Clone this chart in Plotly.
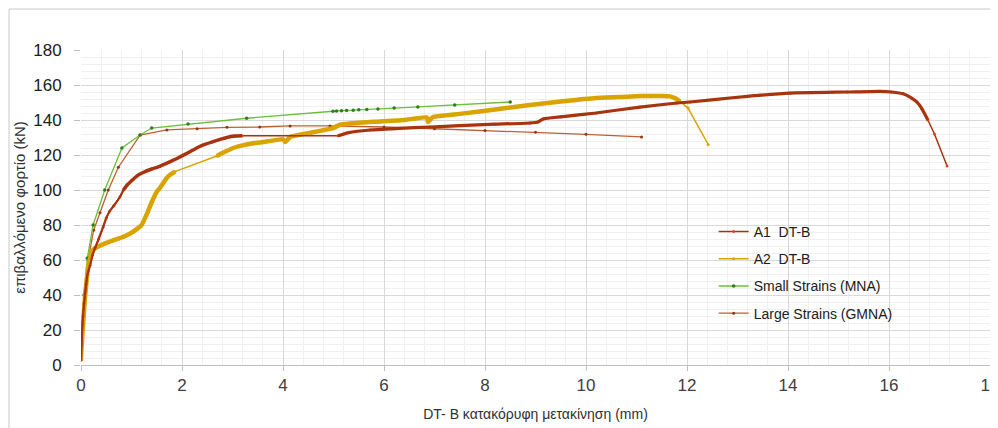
import plotly.graph_objects as go

# ---------------- data ----------------
a1_x = [0, 0.01, 0.02, 0.04, 0.06, 0.08, 0.1, 0.13, 0.18, 0.23, 0.28, 0.35, 0.44, 0.5, 0.57, 0.65,
        0.77, 0.84, 0.92, 1.03, 1.13, 1.23, 1.4, 1.56, 1.75, 1.9, 2.1, 2.36, 2.6, 2.89, 3.05, 3.19,
        5.09, 5.3, 5.72, 6.3, 6.91, 7.5, 8.2, 8.89, 9.05, 9.15, 9.5, 10.2, 11.07, 11.8, 12.06, 13.0,
        14.04, 15.17, 15.82, 16.05, 16.28, 16.45, 16.55, 16.65, 16.77, 16.9, 17.15]
a1_y = [3, 12, 20, 28, 35, 41, 46, 52, 57, 63, 67, 72, 79, 84, 88, 91,
        96, 100, 103, 106, 108.5, 110, 112, 113.5, 116, 118, 121, 125, 127.5, 130, 130.8, 131,
        131, 132.8, 134.3, 135.2, 136, 136.8, 137.6, 138.3, 138.9, 140.6, 141.8, 144, 147.4, 149.7, 150.3, 153,
        155.4, 156, 156.4, 156, 155, 152.5, 150.3, 146.5, 140, 132, 113.7]

a2_x = [0, 0.01, 0.04, 0.08, 0.1, 0.14, 0.18, 0.21, 0.28, 0.4, 0.57, 0.75, 0.9, 1.05, 1.2, 1.3,
        1.4, 1.5, 1.56, 1.63, 1.7, 1.78, 1.86, 2.69, 2.85, 3.01, 3.2, 3.41, 3.7, 4.0, 4.03, 4.05,
        4.14, 4.5, 4.99, 5.13, 5.33, 5.8, 6.4, 6.85, 6.87, 6.97, 7.5, 8.2, 8.89, 9.5, 10.2, 10.8,
        11.07, 11.5, 11.66, 11.76, 11.86, 12.02, 12.42]
a2_y = [3, 10, 22, 39, 45, 56, 61, 64.8, 66.8, 68.5, 70.5, 72.3, 74, 76.5, 80, 86,
        93, 99, 101, 104, 107, 109, 110.5, 119.4, 121.8, 124, 125.5, 126.7, 127.8, 129, 128, 127.4,
        130.3, 132.5, 135.4, 137.3, 138, 139, 140, 141.5, 138.9, 141.7, 143.5, 146, 148.6, 150.6, 152.6, 153.3,
        153.7, 153.7, 153.5, 152.5, 150.8, 146.8, 126]

mna_x = [0, 0.01, 0.06, 0.125, 0.24, 0.47, 0.81, 1.17, 1.4, 2.12, 3.28, 4.99, 5.06, 5.16, 5.26,
         5.39, 5.5, 5.66, 5.88, 6.2, 6.67, 7.4, 8.5]
mna_y = [3, 20, 40, 61, 80, 100, 124, 131.4, 135.4, 137.7, 141, 145, 145.2, 145.3, 145.5,
         145.6, 145.8, 146, 146.3, 146.8, 147.5, 148.6, 150.3]

gmna_x = [0, 0.02, 0.07, 0.14, 0.25, 0.376, 0.54, 0.74, 1.17, 1.7, 2.3, 2.89, 3.54, 4.14, 4.93,
          6.0, 7.0, 8.0, 9.0, 10.0, 11.1]
gmna_y = [3, 20, 40, 60, 77, 87, 100, 113, 131.4, 134.3, 135, 135.8, 136, 136.6, 136.6,
          136, 135, 134, 133, 131.8, 130.3]

names = ["A1  DT-B", "A2  DT-B", "Small Strains (MNA)", "Large Strains (GMNA)"]
x_ticks = [0, 2, 4, 6, 8, 10, 12, 14, 16, 18]
y_ticks = [0, 20, 40, 60, 80, 100, 120, 140, 160, 180]

# ---------------- styles ----------------
C_A1 = "#A8340F"
C_A1M = "#D84A1A"
C_A2 = "#D9A300"
C_MNA = "#6CBF3A"
C_MNAM = "#2E7D1E"
C_GMNA = "#BC6232"
FONT = "Liberation Sans, Arial, sans-serif"


def segment(xs, ys, lo, hi):
    idx = [i for i, v in enumerate(xs) if lo <= v <= hi]
    return [xs[i] for i in idx], [ys[i] for i in idx]


fig = go.Figure()

# GMNA
fig.add_trace(go.Scatter(x=gmna_x, y=gmna_y, name=names[3], mode="lines+markers",
                         legendgroup="g4", legendrank=4,
                         line=dict(color=C_GMNA, width=1.3),
                         marker=dict(size=3, color="#8A3A18")))
# MNA
fig.add_trace(go.Scatter(x=mna_x, y=mna_y, name=names[2], mode="lines+markers",
                         legendgroup="g3", legendrank=3,
                         line=dict(color=C_MNA, width=1.3),
                         marker=dict(size=3.5, color=C_MNAM)))

# A2 thin base + dense thick parts
fig.add_trace(go.Scatter(x=a2_x, y=a2_y, name=names[1], mode="lines+markers",
                         legendgroup="g2", legendrank=2,
                         line=dict(color=C_A2, width=1.5),
                         marker=dict(size=3, color=C_A2)))
for lo, hi in [(0, 1.86), (2.69, 11.86)]:
    sx, sy = segment(a2_x, a2_y, lo, hi)
    fig.add_trace(go.Scatter(x=sx, y=sy, mode="lines", showlegend=False, hoverinfo="skip",
                             legendgroup="g2",
                             line=dict(color=C_A2, width=4.5, shape="spline", smoothing=0.4)))

# A1 thin base + dense parts
fig.add_trace(go.Scatter(x=a1_x, y=a1_y, name=names[0], mode="lines+markers",
                         legendgroup="g1", legendrank=1,
                         line=dict(color=C_A1, width=1.5),
                         marker=dict(size=3, color=C_A1M)))
for lo, hi, w in [(0, 0.84, 2.2), (0.84, 3.19, 3.5), (5.09, 16.77, 3.2)]:
    sx, sy = segment(a1_x, a1_y, lo, hi)
    fig.add_trace(go.Scatter(x=sx, y=sy, mode="lines", showlegend=False, hoverinfo="skip",
                             legendgroup="g1",
                             line=dict(color=C_A1, width=w, shape="spline", smoothing=0.4)))

# outer chart frame
fig.add_shape(type="rect", xref="paper", yref="paper", x0=-0.0792, x1=1.2, y0=-0.5, y1=1.13,
              line=dict(color="#C8C8C8", width=1), fillcolor="rgba(0,0,0,0)", layer="below")

fig.update_layout(
    width=990, height=420,
    margin=dict(l=73, r=8, t=42, b=63, autoexpand=False),
    paper_bgcolor="white", plot_bgcolor="white",
    font=dict(family=FONT, color="#404040"),
    showlegend=True,
    legend=dict(x=0.696, y=0.473, xanchor="left", yanchor="top",
                bgcolor="rgba(0,0,0,0)", font=dict(size=14, color="#202020"),
                traceorder="grouped", itemwidth=30, tracegroupgap=6),
    xaxis=dict(range=[0, 18], tickvals=x_ticks, ticktext=[str(v) for v in x_ticks],
               showgrid=True, gridcolor="#D9D9D9", gridwidth=1,
               minor=dict(dtick=0.4, showgrid=True, gridcolor="#F0F0F0", gridwidth=1),
               zeroline=False, showline=True, linecolor="#BFBFBF",
               ticks="outside", ticklen=5, tickcolor="#BFBFBF",
               ticklabeloverflow="allow",
               tickfont=dict(size=17, color="#404040"),
               title=dict(text="DT- B κατακόρυφη μετακίνηση (mm)", font=dict(size=14, color="#303030"),
                          standoff=14)),
    yaxis=dict(range=[0, 180], tickvals=y_ticks, ticktext=[str(v) for v in y_ticks],
               showgrid=True, gridcolor="#D9D9D9", gridwidth=1,
               minor=dict(dtick=4, showgrid=True, gridcolor="#F0F0F0", gridwidth=1),
               zeroline=False, showline=False,
               ticks="outside", ticklen=6, tickcolor="#BFBFBF",
               ticklabelstandoff=9,
               tickfont=dict(size=17, color="#202020"),
               title=dict(text="επιβαλλόμενο φορτίο (kN)", font=dict(size=15, color="#303030"),
                          standoff=3)),
)

fig.write_html("out.html")
